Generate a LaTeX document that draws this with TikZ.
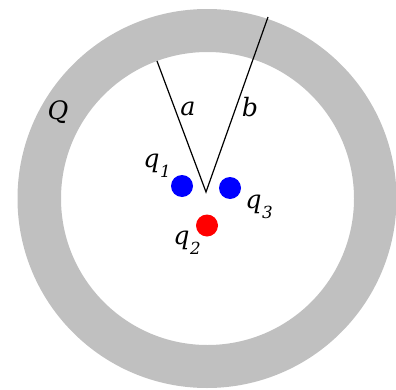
\documentclass[tikz,border=0pt]{standalone}
\usepackage{fontspec}
\setmainfont{DejaVu Serif}
\usepackage{xcolor}
\usepackage{tikz}
\usetikzlibrary{positioning,backgrounds}
\pgfdeclarelayer{edgelayer}
\pgfdeclarelayer{nodelayer}
\pgfsetlayers{background,edgelayer,nodelayer,main}
\definecolor{shellgray}{RGB}{192,192,192}
\tikzstyle{none}=[inner sep=0mm]
\tikzstyle{charge}=[inner sep=0pt,minimum width=16.5pt,draw=none,shape=circle]
\tikzstyle{bn}=[charge,fill=blue]
\tikzstyle{rn}=[charge,fill=red]
\tikzstyle{lab}=[inner sep=0mm,font=\fontsize{19}{21}\selectfont\itshape]
\newcommand{\qlab}[1]{q\kern0.02em\raisebox{-0.38em}{\fontsize{12.5}{13}\selectfont\itshape #1}}

\begin{document}
\begin{tikzpicture}[x=0.75pt,y=-0.75pt]
	\useasboundingbox (0,0) rectangle (396,389);
	\begin{pgfonlayer}{background}
		% the shell
		\fill [shellgray,even odd rule] (207,198.5) circle (189.5) (207.5,198.5) circle (146.5);
	\end{pgfonlayer}
	\begin{pgfonlayer}{nodelayer}
		\node [style=bn] (q1) at (182, 186) {};
		\node [style=rn] (q2) at (207, 225.5) {};
		\node [style=bn] (q3) at (230, 188) {};
		\node [style=lab] (q1l) at (157, 166) {\qlab{1}};
		\node [style=lab] (q2l) at (187, 243) {\qlab{2}};
		\node [style=lab] (q3l) at (259, 207) {\qlab{3}};
		\node [style=lab] (Ql) at (58, 112) {Q};
		\node [style=lab] (al) at (188, 109) {a};
		\node [style=lab] (bl) at (250, 107) {b};
		\coordinate (o) at (206, 192);
		\coordinate (ea) at (157, 61);
		\coordinate (eb) at (268, 17);
	\end{pgfonlayer}
	\begin{pgfonlayer}{edgelayer}
		\draw [line width=0.9pt] (ea) to (o) to (eb);
	\end{pgfonlayer}
\end{tikzpicture}
\end{document}
